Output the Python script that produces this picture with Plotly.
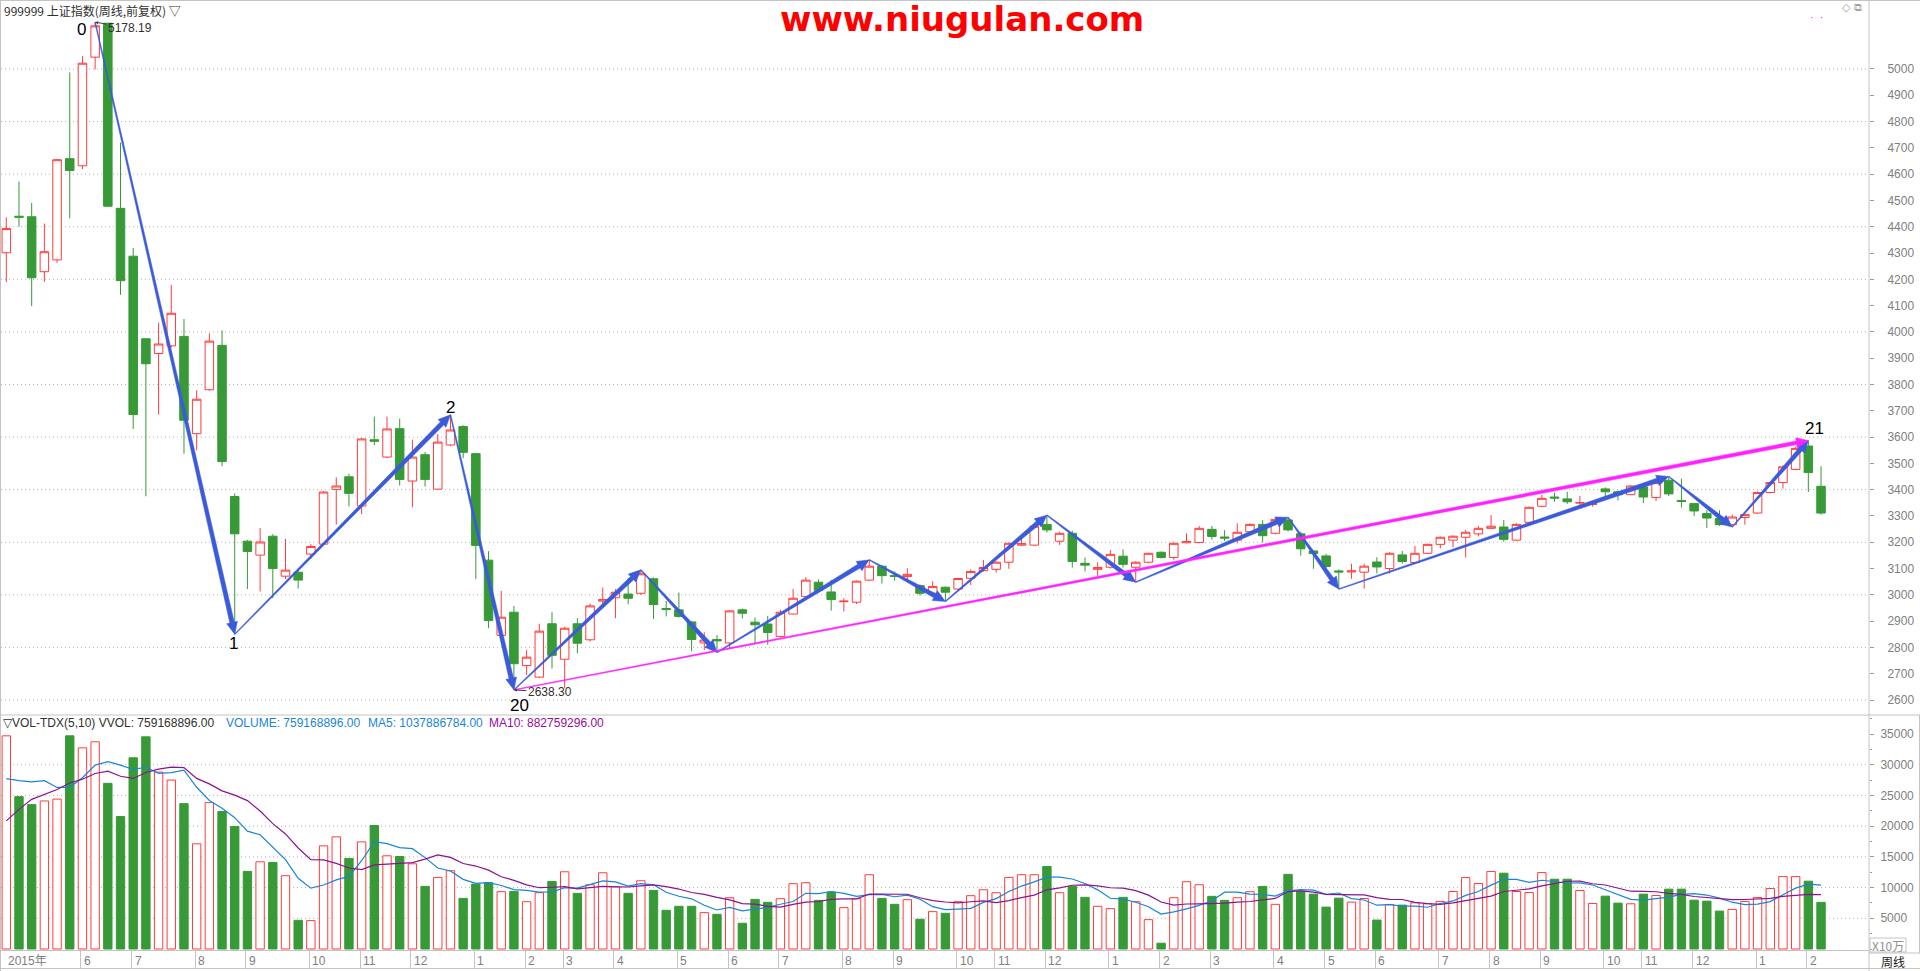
import numpy as np
import plotly.graph_objects as go

# ---------------- data (weekly, Shanghai Composite 999999) ----------------
opens = [4301, 4440, 4438, 4229, 4274, 4659, 4632, 5045, 5174, 4470,
         4288, 3974, 3918, 3947, 3983, 3613, 3780, 3949, 3374, 3204,
         3151, 3223, 3071, 3086, 3155, 3193, 3401, 3449, 3338, 3590,
         3524, 3632, 3433, 3533, 3402, 3570, 3640, 3537, 3132, 2846,
         2934, 2731, 2687, 2890, 2755, 2890, 2829, 2976, 2989, 3003,
         3006, 3061, 2948, 2943, 2897, 2817, 2830, 2817, 2943, 2896,
         2889, 2842, 2927, 2994, 3048, 3011, 2974, 2972, 3056, 3109,
         3074, 3070, 3035, 3006, 3029, 3022, 3063, 3092, 3097, 3124,
         3189, 3189, 3268, 3204, 3234, 3120, 3097, 3105, 3147, 3105,
         3124, 3162, 3142, 3198, 3199, 3249, 3220, 3208, 3240, 3268,
         3234, 3285, 3232, 3167, 3148, 3091, 3087, 3086, 3125, 3100,
         3152, 3123, 3158, 3192, 3208, 3219, 3232, 3253, 3258, 3208,
         3276, 3337, 3372, 3365, 3349, 3344, 3403, 3392, 3381, 3410,
         3370, 3436, 3359, 3347, 3309, 3290, 3267, 3294, 3311, 3389,
         3427, 3477, 3566, 3413]
highs = [4436, 4572, 4490, 4412, 4658, 4987, 5049, 5178.19, 5176, 4720,
         4319, 3976, 4035, 4179, 4049, 3778, 3994, 4006, 3386, 3209,
         3254, 3231, 3213, 3098, 3193, 3395, 3447, 3461, 3597, 3678,
         3678, 3670, 3590, 3543, 3612, 3684.57, 3645, 3539, 3166, 3015,
         2958, 2791, 2890, 2934, 2879, 2911, 2967, 3028, 3022, 3063,
         3095, 3066, 2977, 3009, 2900, 2858, 2847, 2943, 2948, 2914,
         2920, 2943, 3022, 3067, 3059, 3057, 2987, 3055, 3133, 3114,
         3089, 3101, 3040, 3052, 3032, 3065, 3097, 3132, 3128, 3199,
         3214, 3263, 3303, 3240, 3244, 3142, 3124, 3170, 3173, 3128,
         3160, 3165, 3199, 3234, 3262, 3262, 3246, 3272, 3272, 3284,
         3291, 3295, 3240, 3170, 3156, 3097, 3118, 3118, 3143, 3162,
         3167, 3186, 3195, 3222, 3226, 3247, 3262, 3303, 3285, 3272,
         3336, 3380, 3389, 3392, 3376, 3355, 3409, 3397, 3416, 3414,
         3430, 3450, 3442, 3350, 3322, 3322, 3305, 3309, 3394, 3432,
         3493, 3563, 3587, 3489]
lows = [4190, 4400, 4098, 4190, 4263, 4432, 4619, 4998, 4476, 4141,
        3631, 3375, 3686, 3940, 3537, 3550, 3776, 3489, 2850, 3022,
        3013, 2987, 3060, 3024, 3136, 3190, 3267, 3336, 3307, 3569,
        3520, 3416, 3333, 3412, 3400, 3565, 3520, 3060, 2873, 2840,
        2638.30, 2695, 2683, 2720, 2645, 2778, 2822, 2949, 2911, 2964,
        3000, 2908, 2918, 2914, 2785, 2790, 2781, 2796, 2910, 2817,
        2810, 2838, 2925, 2990, 3011, 2940, 2937, 2965, 3052, 3043,
        3054, 3057, 2997, 3003, 2975, 3018, 3037, 3088, 3085, 3099,
        3185, 3186, 3237, 3190, 3104, 3089, 3070, 3100, 3104, 3048,
        3120, 3138, 3133, 3196, 3196, 3210, 3205, 3196, 3238, 3199,
        3230, 3241, 3149, 3099, 3100, 3022, 3061, 3024, 3081, 3081,
        3119, 3120, 3155, 3177, 3181, 3142, 3222, 3250, 3202, 3205,
        3272, 3333, 3354, 3346, 3339, 3335, 3373, 3359, 3379, 3349,
        3357, 3376, 3332, 3300, 3254, 3262, 3258, 3267, 3308, 3386,
        3404, 3474, 3391, 3305]
closes = [4393, 4436, 4206, 4305, 4655, 4614, 5022, 5164, 4478, 4195,
          3686, 3879, 3954, 4071, 3664, 3744, 3965, 3507, 3232, 3165,
          3201, 3100, 3094, 3056, 3184, 3391, 3414, 3386, 3593, 3584,
          3631, 3439, 3524, 3439, 3581, 3627, 3542, 3188, 2902, 2915,
          2738, 2763, 2862, 2770, 2873, 2816, 2958, 2982, 3010, 2987,
          3080, 2963, 2944, 2918, 2830, 2828, 2825, 2939, 2930, 2886,
          2857, 2934, 2987, 3056, 3017, 2982, 2976, 3052, 3109, 3073,
          3070, 3078, 3006, 3032, 3010, 3062, 3089, 3104, 3124, 3196,
          3195, 3261, 3247, 3234, 3127, 3113, 3104, 3154, 3116, 3124,
          3158, 3142, 3196, 3203, 3253, 3222, 3216, 3238, 3268, 3225,
          3287, 3247, 3175, 3157, 3108, 3087, 3091, 3109, 3106, 3158,
          3127, 3158, 3192, 3219, 3223, 3238, 3253, 3261, 3211, 3268,
          3333, 3367, 3368, 3354, 3351, 3346, 3392, 3381, 3414, 3372,
          3427, 3384, 3355, 3319, 3292, 3267, 3296, 3305, 3389, 3427,
          3487, 3557, 3465, 3311]
# weekly volume, unit: x10万 (100,000 shares)
volumes = [34700, 24800, 23500, 24100, 24400, 34700, 32750, 33730, 26970, 21560,
           31130, 34540, 28800, 27500, 23660, 17120, 23830, 22370, 19930, 12630,
           14200, 14090, 11930, 4670, 4620, 16790, 18250, 14740, 17440, 20100,
           15170, 15060, 13870, 10190, 11650, 12740, 8240, 10570, 10790, 9330,
           9380, 7700, 9160, 11000, 12570, 9060, 10460, 12410, 10140, 9060,
           11110, 9540, 6300, 6950, 6950, 5920, 5650, 8350, 4190, 8080,
           7600, 8190, 10630, 10790, 7920, 9270, 6730, 8190, 12090, 8240,
           7270, 8030, 4840, 6080, 5810, 7700, 8680, 9650, 9160, 11650,
           12090, 12090, 13440, 9160, 10190, 8410, 6950, 6570, 8410, 7700,
           4780, 940, 8350, 10950, 10460, 8570, 7920, 8350, 9330, 10190,
           7270, 12150, 9410, 8930, 6820, 8280, 7630, 8220, 4710, 7250,
           7140, 7520, 7360, 7740, 9360, 11630, 10660, 12610, 12340, 9360,
           9200, 12440, 11360, 11360, 9520, 7410, 8600, 7470, 7360, 8930,
           8710, 9740, 9740, 7950, 7790, 6170, 6440, 7740, 8390, 9850,
           11790, 11790, 11040, 7592]
# volumes of the 9 weeks before the first visible week (needed for MA5/MA10)
vol_prior = [6000, 7300, 16100, 16400, 24000, 26550, 24500, 23100, 29900]

month_bars = [0, 6, 10, 15, 19, 24, 28, 32, 37, 41, 44, 48, 53, 57, 61, 66, 70,
              75, 78, 82, 87, 91, 95, 100, 104, 108, 113, 117, 121, 126, 129,
              133, 138, 142]
month_labels = ["2015年", "6", "7", "8", "9", "10", "11", "12", "1", "2", "3",
                "4", "5", "6", "7", "8", "9", "10", "11", "12", "1", "2", "3",
                "4", "5", "6", "7", "8", "9", "10", "11", "12", "1", "2"]

# wave pivots (bar index, H = high / L = low)
wave_bars = [7, 18, 35, 40, 50, 56, 68, 74, 82, 89, 101, 105, 131, 136, 142]
wave_kinds = ["H", "L", "H", "L", "H", "L", "H", "L", "H", "L", "H", "L", "H", "L", "H"]
trend_bars = [40, 142]
trend_kinds = ["L", "H"]
# labelled pivots
label_bars = [7, 18, 35, 40, 142]
label_texts = ["0", "1", "2", "20", "21"]

price_ticks = list(range(2600, 5001, 100))
price_grid = list(range(2600, 5001, 200))
vol_ticks = list(range(5000, 35001, 5000))
vol_grid = list(range(5000, 30001, 5000))

# ---------------- geometry / style ----------------
RED = "#FF3C3C"
GREEN = "#379A37"
BLUE = "#3B5BDB"
MAGENTA = "#FF22FF"
GRID = "#B4B4B4"
FRAME = "#C4C4C4"

PLOT_L, PLOT_R, PLOT_B = 1, 1869, 950
PRICE_BOT = 715
x_min, x_max = -0.4177, 146.78
p_min, p_max = 2543.0, 5262.4
v_min, v_max = -163, 38093
vdom = (PLOT_B - PRICE_BOT) / PLOT_B

sx = (PLOT_R - PLOT_L) / (x_max - x_min)
sy = PRICE_BOT / (p_max - p_min)

idx = list(range(len(opens)))


def pivot_price(b, kind):
    return highs[b] if kind == "H" else lows[b]


def taper_arrow(b0, p0, b1, p1, w0, w1, hl, hw):
    X0, Y0 = b0 * sx, -p0 * sy
    X1, Y1 = b1 * sx, -p1 * sy
    dx, dy = X1 - X0, Y1 - Y0
    L = np.hypot(dx, dy)
    ux, uy = dx / L, dy / L
    nx, ny = -uy, ux
    Nx, Ny = X1 - ux * hl, Y1 - uy * hl
    pts = [(X0 + nx * w0 / 2, Y0 + ny * w0 / 2),
           (Nx + nx * w1 / 2, Ny + ny * w1 / 2),
           (Nx + nx * hw, Ny + ny * hw),
           (X1, Y1),
           (Nx - nx * hw, Ny - ny * hw),
           (Nx - nx * w1 / 2, Ny - ny * w1 / 2),
           (X0 - nx * w0 / 2, Y0 - ny * w0 / 2),
           (X0 + nx * w0 / 2, Y0 + ny * w0 / 2)]
    xs = [p[0] / sx for p in pts]
    ys = [-p[1] / sy for p in pts]
    return xs, ys


def px2paper(x, y):
    return (x - PLOT_L) / (PLOT_R - PLOT_L), (PLOT_B - y) / PLOT_B


fig = go.Figure()

# candles
fig.add_trace(go.Candlestick(
    x=idx, open=opens, high=highs, low=lows, close=closes,
    increasing=dict(line=dict(color=RED, width=1), fillcolor="#FFFFFF"),
    decreasing=dict(line=dict(color=GREEN, width=1), fillcolor=GREEN),
    whiskerwidth=0, showlegend=False, hoverinfo="skip",
    xaxis="x", yaxis="y"))

# wave arrows
for k in range(len(wave_bars) - 1):
    b0, b1 = wave_bars[k], wave_bars[k + 1]
    p0 = pivot_price(b0, wave_kinds[k])
    p1 = pivot_price(b1, wave_kinds[k + 1])
    xs, ys = taper_arrow(b0, p0, b1, p1, 0.8, 4.5, 12, 5.5)
    fig.add_trace(go.Scatter(x=xs, y=ys, mode="lines", fill="toself",
                             fillcolor=BLUE, line=dict(color=BLUE, width=0.5),
                             hoverinfo="skip", showlegend=False,
                             xaxis="x", yaxis="y"))

# trend arrow (magenta)
tp0 = pivot_price(trend_bars[0], trend_kinds[0])
tp1 = pivot_price(trend_bars[1], trend_kinds[1])
xs, ys = taper_arrow(trend_bars[0], tp0, trend_bars[1], tp1, 0.8, 3.6, 12, 5)
fig.add_trace(go.Scatter(x=xs, y=ys, mode="lines", fill="toself",
                         fillcolor=MAGENTA, line=dict(color=MAGENTA, width=0.5),
                         hoverinfo="skip", showlegend=False,
                         xaxis="x", yaxis="y"))

# volume bars
up = [c >= o for o, c in zip(opens, closes)]
fig.add_trace(go.Bar(
    x=idx, y=volumes, width=0.66,
    marker=dict(color=["#FFFFFF" if u else GREEN for u in up],
                line=dict(color=[RED if u else GREEN for u in up], width=1)),
    hoverinfo="skip", showlegend=False, xaxis="x", yaxis="y2"))

allv = np.array(vol_prior + volumes, dtype=float)
ma5 = np.convolve(allv, np.ones(5) / 5, mode="valid")[-len(volumes):]
ma10 = np.convolve(allv, np.ones(10) / 10, mode="valid")[-len(volumes):]
fig.add_trace(go.Scatter(x=idx, y=ma5, mode="lines",
                         line=dict(color="#1A84D8", width=1.2),
                         hoverinfo="skip", showlegend=False, xaxis="x", yaxis="y2"))
fig.add_trace(go.Scatter(x=idx, y=ma10, mode="lines",
                         line=dict(color="#8A148E", width=1.2),
                         hoverinfo="skip", showlegend=False, xaxis="x", yaxis="y2"))

# ---------------- shapes ----------------
shapes = []
for g in price_grid:
    shapes.append(dict(type="line", xref="paper", x0=0, x1=1, yref="y", y0=g, y1=g,
                       line=dict(color=GRID, width=1, dash="1px,3px"), layer="below"))
for g in vol_grid:
    shapes.append(dict(type="line", xref="paper", x0=0, x1=1, yref="y2", y0=g, y1=g,
                       line=dict(color=GRID, width=1, dash="1px,3px"), layer="below"))


def hline(y, x0=0, x1=1920, color=FRAME, w=1):
    a0, b = px2paper(x0, y)
    a1, _ = px2paper(x1, y)
    shapes.append(dict(type="line", xref="paper", yref="paper", x0=a0, x1=a1, y0=b, y1=b,
                       line=dict(color=color, width=w)))


def vline(x, y0, y1, color=FRAME, w=1):
    a, b0 = px2paper(x, y0)
    _, b1 = px2paper(x, y1)
    shapes.append(dict(type="line", xref="paper", yref="paper", x0=a, x1=a, y0=b0, y1=b1,
                       line=dict(color=color, width=w)))


hline(0.5)
hline(PRICE_BOT)
hline(968.5)
vline(0.5, 0, 971)
vline(PLOT_R, 0, 971)
vline(1919.5, PRICE_BOT, 953)
hline(953, 1869, 1920)
a0, b0 = px2paper(1870, 938)
a1, b1 = px2paper(1906, 952)
shapes.append(dict(type="rect", xref="paper", yref="paper", x0=a0, x1=a1, y0=b0, y1=b1,
                   line=dict(color=FRAME, width=1)))

# ---------------- annotations ----------------
ann = []
FONT = "Arial"


def ptext(x, y, text, color="#303030", size=12, xanchor="left", family=FONT, **kw):
    a, b = px2paper(x, y)
    ann.append(dict(x=a, y=b, xref="paper", yref="paper", text=text, showarrow=False,
                    xanchor=xanchor, yanchor="middle",
                    font=dict(family=family, size=size, color=color), **kw))


ptext(2, 10.5, "999999 上证指数(周线,前复权) ▽", "#303030", 12,
      family="Noto Sans CJK SC, Arial")
ptext(962, 19, "<b>www.niugulan.com</b>", "#FF0000", 34, xanchor="center",
      family="DejaVu Sans")
ptext(1852, 7, "◇ ⧉", "#A0A0A0", 11, xanchor="center", family="DejaVu Sans")
ptext(1816, 17, "·  ·", MAGENTA, 11, xanchor="center")

ptext(1, 722.5, "▽VOL-TDX(5,10) VVOL: 759168896.00", "#303030", 12)
ptext(224, 722.5, "VOLUME: 759168896.00", "#1A84D8", 12)
ptext(366, 722.5, "MA5: 1037886784.00", "#1A84D8", 12)
ptext(487, 722.5, "MA10: 882759296.00", "#9A0A9A", 12)
ptext(1888, 945, "X10万", "#909090", 12, xanchor="center",
      family="Noto Sans CJK SC, Arial")
ptext(1893, 961, "周线", "#202020", 12, xanchor="center",
      family="Noto Sans CJK SC, Arial")

# pivot number labels
label_offsets = {"0": (-14, -7.5), "1": (-1.5, -9), "2": (0, 7.5),
                 "20": (6, -16), "21": (6, 12)}
for b, t in zip(label_bars, label_texts):
    kind = wave_kinds[wave_bars.index(b)]
    p = pivot_price(b, kind)
    dx, dy = label_offsets[t]
    ann.append(dict(x=b, y=p, xref="x", yref="y", text=t, showarrow=False,
                    xanchor="center", yanchor="middle", xshift=dx, yshift=dy,
                    font=dict(family=FONT, size=17, color="#000000")))

# extreme value markers
hi_b = int(np.argmax(highs))
lo_b = int(np.argmin(lows))
for b, p, axp, ayp in [(hi_b, highs[hi_b], 35, 6), (lo_b, lows[lo_b], 36, 2)]:
    ann.append(dict(x=b, y=p, xref="x", yref="y", text=f"{p:.2f}",
                    showarrow=True, ax=axp, ay=ayp, arrowhead=2, arrowsize=0.6,
                    arrowwidth=1, arrowcolor="#404040", standoff=0,
                    font=dict(family=FONT, size=12, color="#303030")))

# month labels on date strip
_, date_y = px2paper(0, 961)
for b, lab in zip(month_bars, month_labels):
    ann.append(dict(x=b - 0.12, y=date_y, xref="x", yref="paper", text=lab,
                    showarrow=False, xanchor="left", yanchor="middle", xshift=1,
                    font=dict(family="Arial, Noto Sans CJK SC", size=12, color="#808080")))

fig.update_layout(
    width=1920, height=971,
    margin=dict(l=PLOT_L, r=1920 - PLOT_R, t=0, b=971 - PLOT_B),
    paper_bgcolor="#FFFFFF", plot_bgcolor="#FFFFFF",
    showlegend=False, boxgap=0.33, boxgroupgap=0,
    xaxis=dict(range=[x_min, x_max], anchor="y2", showgrid=False, zeroline=False,
               tickvals=[b - 0.12 for b in month_bars[1:]], ticks="outside",
               ticklen=18, tickcolor=FRAME, showticklabels=False,
               showline=True, linecolor=FRAME, linewidth=1,
               rangeslider=dict(visible=False), fixedrange=True),
    yaxis=dict(domain=[vdom, 1], range=[p_min, p_max], side="right", anchor="x",
               tickvals=price_ticks, ticks="outside", ticklen=4, tickcolor="#9A9A9A",
               tickfont=dict(family=FONT, size=12, color="#808080"),
               ticklabelstandoff=11,
               showgrid=False, zeroline=False, showline=False),
    yaxis2=dict(domain=[0, vdom], range=[v_min, v_max], side="right", anchor="x",
                tickvals=vol_ticks, ticktext=[str(v) for v in vol_ticks],
                ticks="outside", ticklen=4, tickcolor="#9A9A9A",
                tickfont=dict(family=FONT, size=12, color="#808080"),
                ticklabelstandoff=4,
                minor=dict(dtick=2500, ticks="outside", ticklen=2, tickcolor="#9A9A9A"),
                showgrid=False, zeroline=False, showline=False),
    shapes=shapes, annotations=ann,
)

fig.write_html("out.html",
               config={"displayModeBar": False},
               post_script="document.body.style.margin='0';"
                           "document.body.style.overflow='hidden';")
